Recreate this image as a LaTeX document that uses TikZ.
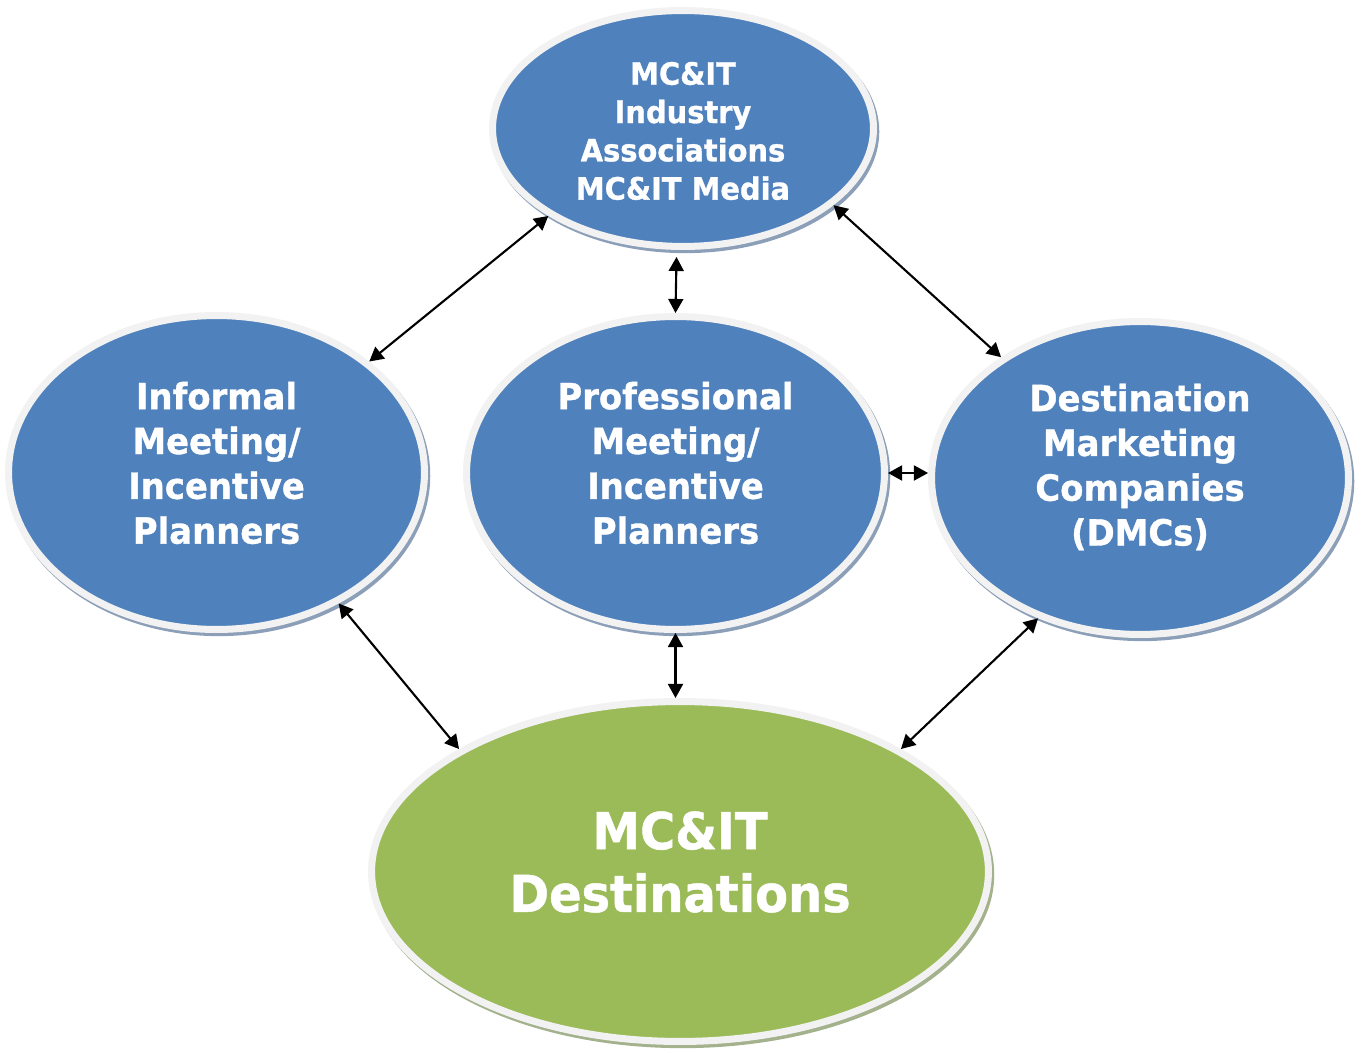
\documentclass[tikz,border=0pt]{standalone}
\usepackage{fontspec}
\setmainfont{DejaVu Sans}[FakeStretch=0.94, BoldFeatures={FakeBold=1}]
\usetikzlibrary{shapes.geometric,arrows.meta}

\definecolor{mcblue}{HTML}{4F81BD}
\definecolor{mcgreen}{HTML}{9BBB59}
\definecolor{rimgray}{HTML}{F2F2F2}
\definecolor{blueshade}{HTML}{8C9FB8}
\definecolor{greenshade}{HTML}{A3B18C}

\tikzset{
  >={Triangle[length=8pt,width=8.5pt]},
  link/.style={<->, line width=1.2pt},
  bubble/.style 2 args={ellipse, fill=#1, draw=rimgray, line width=4pt,
    preaction={fill=#2, draw=#2, line width=4pt,
      transform canvas={shift={(1.3pt,-1.8pt)}}}},
  bluebubble/.style={bubble={mcblue}{blueshade}},
  greenbubble/.style={bubble={mcgreen}{greenshade}},
  bubbletext/.style={text=white, align=center, font=\bfseries\fontsize{20.5}{25.5}\selectfont}
}

\begin{document}
\begin{tikzpicture}[x=0.02cm,y=-0.02cm]
    \useasboundingbox (0,0) rectangle (1365,1053);

    % the five groups
    \draw(683, 128.5) node [bluebubble, minimum width=7.62cm, minimum height=4.72cm](assoc){};
    \draw(216.5, 472.5) node [bluebubble, minimum width=8.32cm, minimum height=6.28cm](informal){};
    \draw(675.5, 473) node [bluebubble, minimum width=8.36cm, minimum height=6.26cm](professional){};
    \draw(1140, 478) node [bluebubble, minimum width=8.34cm, minimum height=6.26cm](dmc){};
    \draw(680, 871.5) node [greenbubble, minimum width=12.34cm, minimum height=6.8cm](dest){};

    \draw(683, 131) node [bubbletext, font=\bfseries\fontsize{17.5}{21.8}\selectfont](assoctext){MC\&IT\\Industry\\Associations\\MC\&IT Media};
    \draw(216.5, 463) node [bubbletext](informaltext){Informal\\Meeting/\\Incentive\\Planners};
    \draw(675.5, 463) node [bubbletext](professionaltext){Professional\\Meeting/\\Incentive\\Planners};
    \draw(1140, 467) node [bubbletext](dmctext){Destination\\Marketing\\Companies\\(DMCs)};
    \draw(680, 862) node [bubbletext, font=\bfseries\fontsize{29}{35.7}\selectfont](desttext){MC\&IT\\Destinations};

    \draw[link] (assoc.213) -- (informal.36);
    \draw[link, shorten <=4pt] (assoc.267) -- (professional.north);
    \draw[link] (assoc.333) -- (dmc.139);
    \draw[link] (professional.east) -- (professional.east -| dmc.west);
    \draw[link] (informal.313) -- (dest.151);
    \draw[link] (professional.south) -- (professional.south |- dest.north);
    \draw[link] (dmc.234) -- (dest.29);
\end{tikzpicture}
\end{document}
